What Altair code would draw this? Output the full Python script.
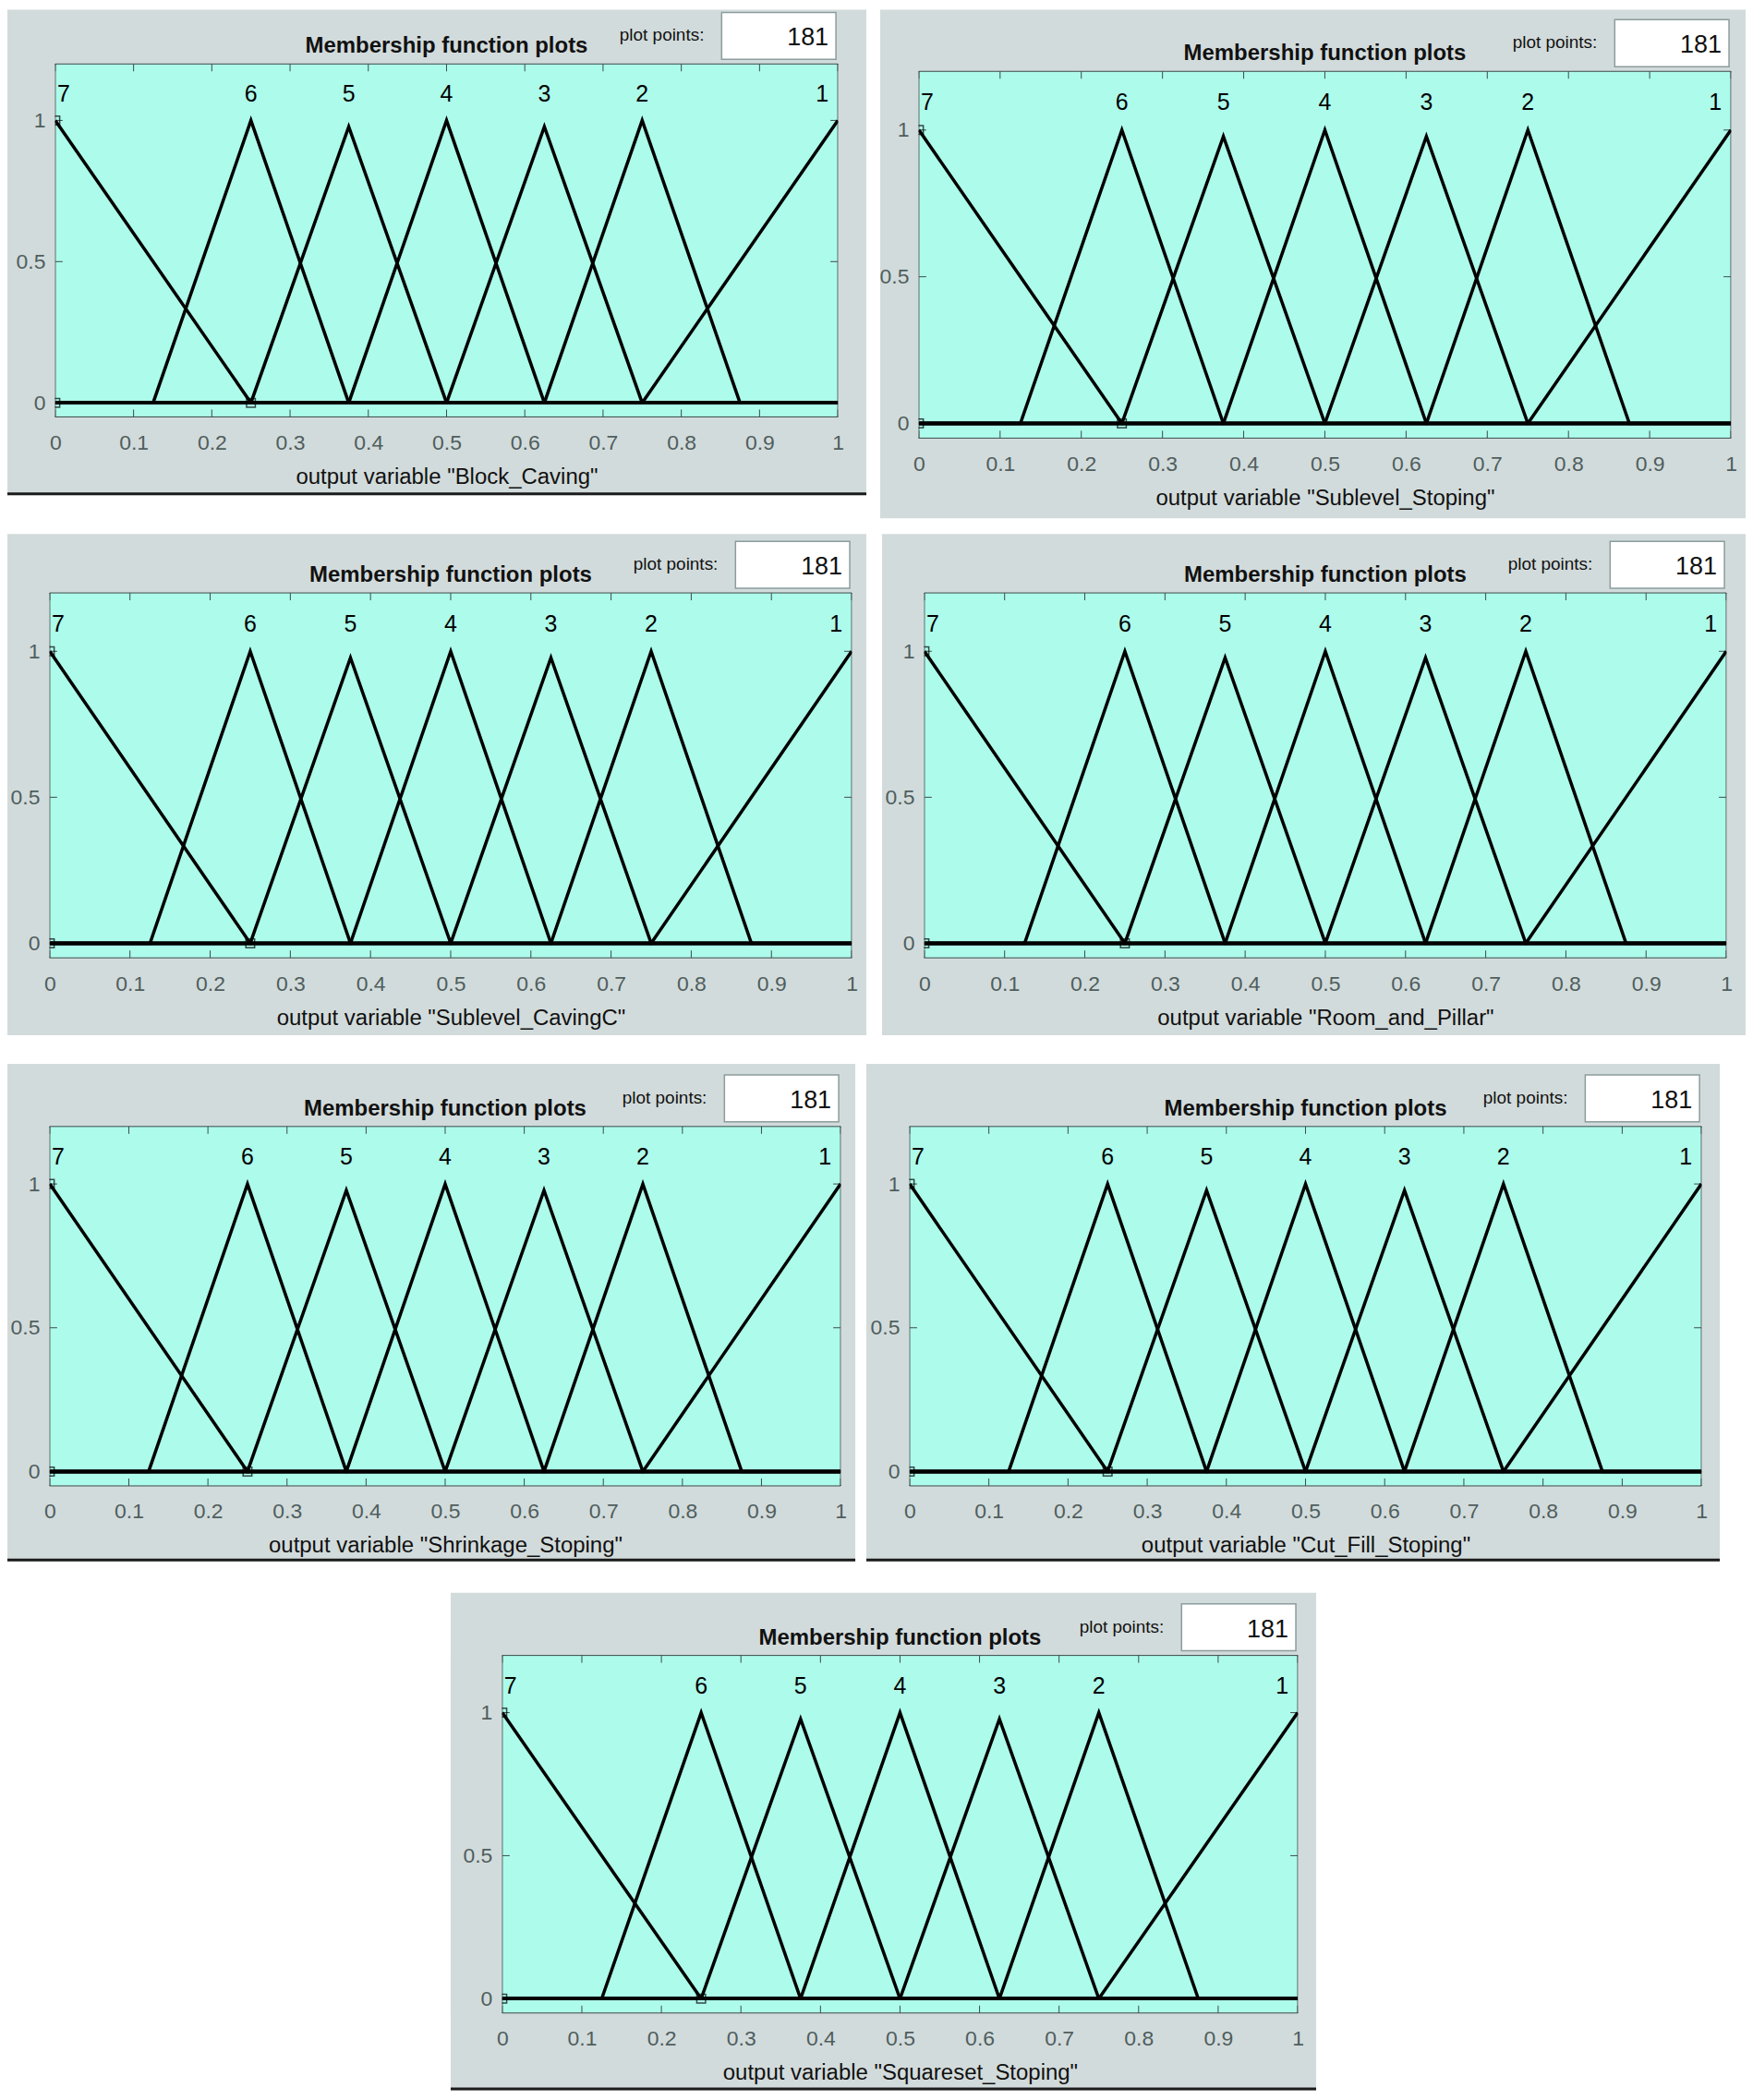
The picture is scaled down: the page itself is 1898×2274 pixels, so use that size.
import altair as alt
import pandas as pd

# ---------------- data ----------------
mf_labels = ["7", "6", "5", "4", "3", "2", "1"]
mf_left = [0.0, 0.125, 0.25, 0.375, 0.5, 0.625, 0.75]
mf_peak = [0.0, 0.25, 0.375, 0.5, 0.625, 0.75, 1.0]
mf_right = [0.25, 0.375, 0.5, 0.625, 0.75, 0.875, 1.0]
mf_top = [1.0, 1.0, 0.978, 1.0, 0.978, 1.0, 1.0]

# vertices of the selected MF (square handles)
sel_x = [0.0, 0.0, 0.25]
sel_y = [0.0, 1.0, 0.0]

x_ticks = [0, 0.1, 0.2, 0.3, 0.4, 0.5, 0.6, 0.7, 0.8, 0.9, 1]
y_ticks = [0, 0.5, 1]

variables = ["Block_Caving", "Sublevel_Stoping", "Sublevel_CavingC",
             "Room_and_Pillar", "Shrinkage_Stoping", "Cut_Fill_Stoping",
             "Squareset_Stoping"]
plot_points = "181"
label_level = 1.093

# ---------------- styling ----------------
FONT = "Liberation Sans"
GRAY = "#D2DBDB"
CYAN = "#ADFBEB"
BORDER = "#3C4B4B"
TICKC = "#4F5E5E"
BOXB = "#8C9C9C"

# per panel: gray window (x1, y1, x2, y2), plot area (x1, y1, x2, y2), dark bottom rule
frames = [
    ((8, 8, 940, 535), (60, 67, 909, 450), True),
    ((954, 8, 1893, 560), (996, 75, 1877, 473), False),
    ((8, 577, 940, 1121), (54, 641, 924, 1037), False),
    ((957, 577, 1894, 1121), (1003, 641, 1873, 1037), False),
    ((8, 1152, 928, 1692), (54, 1220, 912, 1610), True),
    ((940, 1152, 1866, 1692), (987, 1220, 1846, 1610), True),
    ((489, 1726, 1428, 2266), (545, 1794, 1408, 2182), True),
]

# ---------------- tables ----------------
rows = []
for i, lab in enumerate(mf_labels):
    pts = []
    if mf_left[i] > 0:
        pts.append((0.0, 0.0))
    if mf_left[i] < mf_peak[i]:
        pts.append((mf_left[i], 0.0))
    pts.append((mf_peak[i], mf_top[i]))
    if mf_right[i] > mf_peak[i]:
        pts.append((mf_right[i], 0.0))
    if mf_right[i] < 1:
        pts.append((1.0, 0.0))
    for k, (px, py) in enumerate(pts):
        rows.append({"mf": lab, "o": k, "x": px, "y": py})
lines_df = pd.DataFrame(rows)

labels_df = pd.DataFrame({
    "mf": mf_labels,
    "x": mf_peak,
    "y": [label_level] * len(mf_labels),
    "pos": ["first"] + ["mid"] * (len(mf_labels) - 2) + ["last"],
})
sel_df = pd.DataFrame({"x": sel_x, "y": sel_y})
xt_df = pd.DataFrame({"x": x_ticks})
yt_df = pd.DataFrame({"y": y_ticks})
one = pd.DataFrame({"a": [0]})


def spacer(w, h):
    return alt.Chart(one).mark_rect(opacity=0).encode(
        x=alt.value(0), x2=alt.value(w), y=alt.value(0), y2=alt.value(h)
    ).properties(width=w, height=h)


def panel(var, frame):
    (gx1, gy1, gx2, gy2), (px1, py1, px2, py2), dark = frame
    W, H = gx2 - gx1, gy2 - gy1
    L, T = px1 - gx1, py1 - gy1
    w, h = px2 - px1, py2 - py1
    B = gy2 - py2

    xs = alt.Scale(domain=[0, 1], range=[L, L + w], nice=False, zero=False)
    ys = alt.Scale(domain=[-0.05, 1.2], range=[T + h, T], nice=False, zero=False)
    xaxis = alt.Axis(
        values=x_ticks, format="~g", title=f'output variable "{var}"',
        offset=-B, labelFont=FONT, labelFontSize=23, labelColor=TICKC,
        labelPadding=28, labelBaseline="middle", labelFlush=False,
        ticks=False, tickSize=0, domain=False, grid=False, titleFont=FONT,
        titleFontSize=24, titleFontWeight="normal", titleColor="#111111",
        titleY=65, titleBaseline="middle", zindex=2)
    yaxis = alt.Axis(
        values=y_ticks, format="~g", title="", offset=-L, labelFont=FONT,
        labelFontSize=23, labelColor=TICKC, labelPadding=11, ticks=False,
        tickSize=0, domain=False, grid=False, zindex=2)
    X = lambda f="x": alt.X(f"{f}:Q", scale=xs, axis=xaxis)
    Y = lambda f="y": alt.Y(f"{f}:Q", scale=ys, axis=yaxis)

    layers = []
    # window background and dark bottom rule
    layers.append(alt.Chart(one).mark_rect(color=GRAY).encode(
        x=alt.value(0), x2=alt.value(W), y=alt.value(0), y2=alt.value(H)))
    if dark:
        layers.append(alt.Chart(one).mark_rect(color="#1B1B1B").encode(
            x=alt.value(0), x2=alt.value(W), y=alt.value(H - 3), y2=alt.value(H)))
    # plot area
    layers.append(alt.Chart(one).mark_rect(fill=CYAN, stroke=BORDER, strokeWidth=1).encode(
        x=alt.value(L), x2=alt.value(L + w), y=alt.value(T), y2=alt.value(T + h)))
    # inward ticks
    layers.append(alt.Chart(xt_df).mark_rule(color=BORDER, strokeWidth=1).encode(
        x=X(), y=alt.value(T + h), y2=alt.value(T + h - 8)))
    layers.append(alt.Chart(xt_df).mark_rule(color=BORDER, strokeWidth=1).encode(
        x=X(), y=alt.value(T), y2=alt.value(T + 8)))
    layers.append(alt.Chart(yt_df).mark_rule(color=BORDER, strokeWidth=1).encode(
        y=Y(), x=alt.value(L), x2=alt.value(L + 8)))
    layers.append(alt.Chart(yt_df).mark_rule(color=BORDER, strokeWidth=1).encode(
        y=Y(), x=alt.value(L + w - 8), x2=alt.value(L + w)))
    # membership functions
    layers.append(alt.Chart(lines_df).mark_line(color="black", strokeWidth=3.5).encode(
        x=X(), y=Y(), detail="mf:N", order="o:Q"))
    layers.append(alt.Chart(sel_df).mark_point(
        shape="square", filled=False, color="black", size=90,
        strokeWidth=1.5).encode(x=X(), y=Y()))
    # clip whatever crosses the left/right edges of the plot box
    layers.append(alt.Chart(one).mark_rect(color=GRAY).encode(
        x=alt.value(0), x2=alt.value(L - 0.5), y=alt.value(T + 1), y2=alt.value(T + h - 1)))
    layers.append(alt.Chart(one).mark_rect(color=GRAY).encode(
        x=alt.value(L + w + 0.5), x2=alt.value(W), y=alt.value(T + 1), y2=alt.value(T + h - 1)))
    # MF names
    for pos, align, dx in [("first", "left", 2), ("mid", "center", 0), ("last", "right", -10)]:
        layers.append(alt.Chart(labels_df).transform_filter(
            alt.datum.pos == pos).mark_text(
            font=FONT, fontSize=25, color="black", align=align, dx=dx,
            baseline="middle").encode(x=X(), y=Y(), text="mf:N"))
    # header
    layers.append(alt.Chart(one).mark_text(
        text="Membership function plots", font=FONT, fontSize=24,
        fontWeight="bold", color="#111111", align="center",
        baseline="alphabetic").encode(x=alt.value(L + w / 2), y=alt.value(T - 12)))
    layers.append(alt.Chart(one).mark_rect(fill="white", stroke=BOXB, strokeWidth=1.5).encode(
        x=alt.value(L + w - 126), x2=alt.value(L + w - 2),
        y=alt.value(T - 56), y2=alt.value(T - 5)))
    layers.append(alt.Chart(one).mark_text(
        text="plot points:", font=FONT, fontSize=19, color="#111111",
        align="right", baseline="alphabetic").encode(
        x=alt.value(L + w - 145), y=alt.value(T - 25)))
    layers.append(alt.Chart(one).mark_text(
        text=plot_points, font=FONT, fontSize=27, color="#111111",
        align="right", baseline="alphabetic").encode(
        x=alt.value(L + w - 10), y=alt.value(T - 20)))
    return alt.layer(*layers).properties(width=W, height=H)


P = [panel(v, f) for v, f in zip(variables, frames)]

row1 = alt.hconcat(P[0], P[1], spacing=14)
row2 = alt.hconcat(P[2], P[3], spacing=17)
row3 = alt.hconcat(P[4], P[5], spacing=12)
row4 = alt.hconcat(spacer(481, 1), P[6], spacing=0)

chart = alt.vconcat(
    row1, spacer(1, 17), row2, spacer(1, 31), row3, spacer(1, 34), row4,
    spacing=0
).properties(padding=0).configure_view(strokeWidth=0)

chart.save("out.html", embed_options={"renderer": "svg", "actions": False})
